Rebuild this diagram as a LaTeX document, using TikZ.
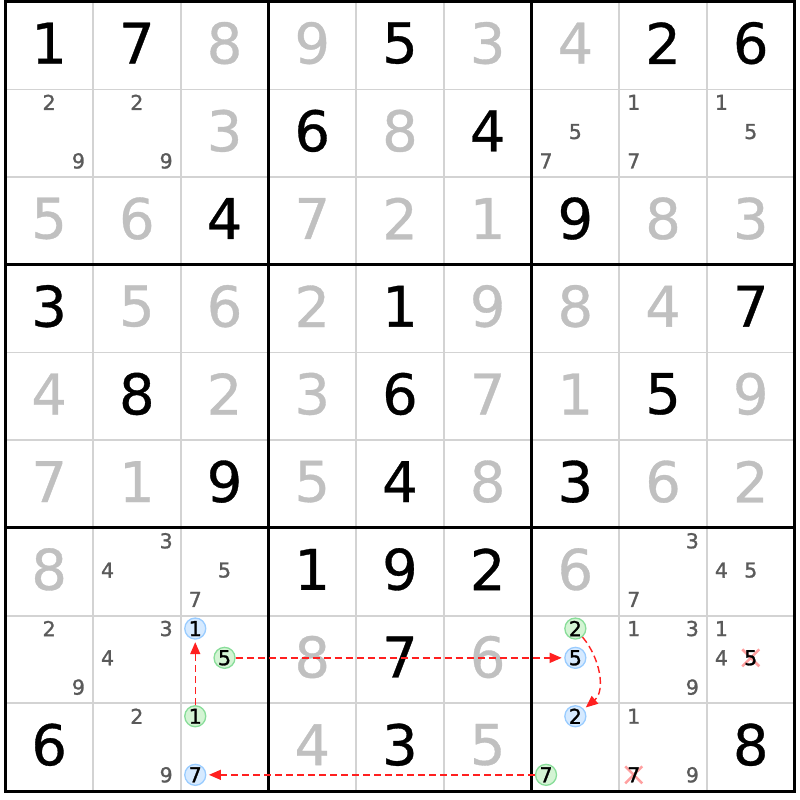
\documentclass[tikz,border=0pt]{standalone}
\usepackage{fontspec}
\setmainfont{DejaVu Sans}
\newfontfamily\candfont[FakeBold=1.3]{DejaVu Sans}
\newfontfamily\bigfont[FakeBold=0.6]{DejaVu Sans}
\usetikzlibrary{arrows.meta}
\definecolor{givencol}{HTML}{C0C0C0}
\definecolor{candcol}{HTML}{5A5A5A}
\definecolor{thincol}{HTML}{D3D3D3}
\definecolor{bfill}{HTML}{D6EAFF}
\definecolor{bline}{HTML}{99CCFF}
\definecolor{gfill}{HTML}{D4F4D4}
\definecolor{gline}{HTML}{88DD99}
\definecolor{xcol}{HTML}{FF9090}
\definecolor{linkcol}{HTML}{FF2020}
\pgfdeclarelayer{backmost}
\pgfdeclarelayer{under}
\pgfsetlayers{backmost,under,main}
\newcommand\bigdig[4]{\node[#4] (d#1#2) at ({5.3+(#2-0.5)*87.7},{798.2-(#1-0.5)*87.7+2.5}) {#3};}
\newcommand\cnd[4]{%
  \pgfmathsetmacro\cdxx{(mod(#3-1,3)-1)*29.3}%
  \pgfmathsetmacro\cdyy{-(floor((#3-1)/3)-1)*29.3+1.7}%
  \node[#4] (c#1#2#3) at ({5.3+(#2-0.5)*87.7+\cdxx},{798.2-(#1-0.5)*87.7+\cdyy}) {#3};}
\begin{document}
\begin{tikzpicture}[x=1pt,y=1pt,
  bigbase/.style={font=\bigfont\fontsize{56}{60}\selectfont, inner sep=0pt},
  solved/.style={bigbase,text=black},
  givendig/.style={bigbase,text=givencol},
  cand/.style={font=\candfont\fontsize{20.5}{22}\selectfont,text=candcol,inner sep=0pt},
  struck/.style={cand,text=black},
  bluec/.style={cand,text=black,circle,draw=bline,fill=bfill,line width=1.3pt,minimum size=21pt},
  greenc/.style={cand,text=black,circle,draw=gline,fill=gfill,line width=1.3pt,minimum size=21pt},
  thinline/.style={draw=thincol,line width=1.8pt},
  thickline/.style={draw=black,line width=3pt},
  link/.style={draw=linkcol,line width=1.4pt,dash pattern=on 7pt off 4pt,-{Triangle[length=12pt,width=10pt,fill=linkcol]},shorten >=2.5pt},
  xmark/.style={draw=xcol,line width=2.6pt,opacity=0.85},
]
\begin{pgfonlayer}{backmost}
\fill[white] (0,0) rectangle (800,800);
\end{pgfonlayer}
\useasboundingbox (0,0) rectangle (800,800);
% grid
\foreach \i in {1,2,4,5,7,8} {
  \draw[thinline] ({5.3+\i*87.7},798.2) -- ({5.3+\i*87.7},8.9);
  \draw[thinline] (5.3,{798.2-\i*87.7}) -- (794.6,{798.2-\i*87.7});
}
\foreach \i in {3,6} {
  \draw[thickline] ({5.3+\i*87.7},798.2) -- ({5.3+\i*87.7},8.9);
  \draw[thickline] (5.3,{798.2-\i*87.7}) -- (794.6,{798.2-\i*87.7});
}
\draw[thickline] (5.3,798.2) rectangle (794.6,8.9);
% big digits
\foreach \r/\c/\d/\s in {
 1/1/1/solved, 1/2/7/solved, 1/3/8/givendig, 1/4/9/givendig, 1/5/5/solved, 1/6/3/givendig, 1/7/4/givendig, 1/8/2/solved, 1/9/6/solved,
 2/3/3/givendig, 2/4/6/solved, 2/5/8/givendig, 2/6/4/solved,
 3/1/5/givendig, 3/2/6/givendig, 3/3/4/solved, 3/4/7/givendig, 3/5/2/givendig, 3/6/1/givendig, 3/7/9/solved, 3/8/8/givendig, 3/9/3/givendig,
 4/1/3/solved, 4/2/5/givendig, 4/3/6/givendig, 4/4/2/givendig, 4/5/1/solved, 4/6/9/givendig, 4/7/8/givendig, 4/8/4/givendig, 4/9/7/solved,
 5/1/4/givendig, 5/2/8/solved, 5/3/2/givendig, 5/4/3/givendig, 5/5/6/solved, 5/6/7/givendig, 5/7/1/givendig, 5/8/5/solved, 5/9/9/givendig,
 6/1/7/givendig, 6/2/1/givendig, 6/3/9/solved, 6/4/5/givendig, 6/5/4/solved, 6/6/8/givendig, 6/7/3/solved, 6/8/6/givendig, 6/9/2/givendig,
 7/1/8/givendig, 7/4/1/solved, 7/5/9/solved, 7/6/2/solved, 7/7/6/givendig,
 8/4/8/givendig, 8/5/7/solved, 8/6/6/givendig,
 9/1/6/solved, 9/4/4/givendig, 9/5/3/solved, 9/6/5/givendig, 9/9/8/solved} {
  \bigdig{\r}{\c}{\d}{\s}
}
% candidates
\foreach \r/\c/\d in {
 2/1/2, 2/1/9, 2/2/2, 2/2/9, 2/7/5, 2/7/7, 2/8/1, 2/8/7, 2/9/1, 2/9/5,
 7/2/3, 7/2/4, 7/3/5, 7/3/7, 7/8/3, 7/8/7, 7/9/4, 7/9/5,
 8/1/2, 8/1/9, 8/2/3, 8/2/4, 8/8/1, 8/8/3, 8/8/9, 8/9/1, 8/9/4,
 9/2/2, 9/2/9, 9/8/1, 9/8/9} {
  \cnd{\r}{\c}{\d}{cand}
}
\cnd{8}{9}{5}{struck}
\cnd{9}{8}{7}{struck}
\begin{pgfonlayer}{under}
\draw[xmark] ([shift={(-8.5,-8.5)}]c895.center) -- ([shift={(8.5,8.5)}]c895.center);
\draw[xmark] ([shift={(-8.5,8.5)}]c895.center) -- ([shift={(8.5,-8.5)}]c895.center);
\draw[xmark] ([shift={(-8.5,-8.5)}]c987.center) -- ([shift={(8.5,8.5)}]c987.center);
\draw[xmark] ([shift={(-8.5,8.5)}]c987.center) -- ([shift={(8.5,-8.5)}]c987.center);
\end{pgfonlayer}
% circled candidates
\cnd{8}{3}{1}{bluec}
\cnd{8}{7}{5}{bluec}
\cnd{9}{7}{2}{bluec}
\cnd{9}{3}{7}{bluec}
\cnd{9}{3}{1}{greenc}
\cnd{8}{3}{5}{greenc}
\cnd{8}{7}{2}{greenc}
\cnd{9}{7}{7}{greenc}
% links
\draw[link] (c931) -- (c831);
\draw[link] (c835) -- (c875);
\draw[link] (c872) to[out=-50,in=40] (c972);
\draw[link] (c977) -- (c937);
\end{tikzpicture}
\end{document}
